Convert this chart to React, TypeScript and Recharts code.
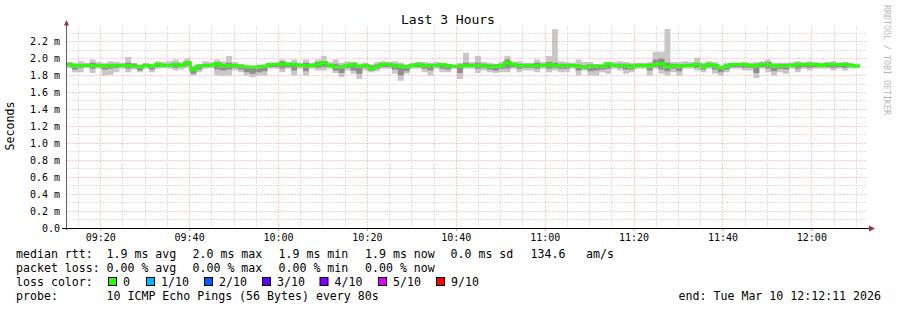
import React from 'react';
import { ComposedChart, Area, Line, XAxis, YAxis, ReferenceLine } from 'recharts';

// one sample every 80 s, window 09:12:11 .. 12:12:11 (x in minutes from start)
const STEP_MIN = 80 / 60;
const START_MIN = 9 * 60 + 12 + 11 / 60;

const medianRtt = [
  1.93, 1.91, 1.92, 1.92, 1.92, 1.92, 1.91, 1.92, 1.92, 1.92,
  1.92, 1.91, 1.90, 1.92, 1.91, 1.93, 1.92, 1.92, 1.93, 1.92,
  1.95, 1.87, 1.91, 1.92, 1.92, 1.94, 1.92,
  1.92, 1.92, 1.91, 1.90, 1.90, 1.90, 1.91, 1.93, 1.93, 1.94,
  1.93, 1.93, 1.92, 1.92, 1.92, 1.93, 1.95, 1.92, 1.90, 1.90,
  1.92, 1.93, 1.91, 1.92, 1.88, 1.91, 1.93,
  1.93, 1.92, 1.91, 1.90, 1.92, 1.93, 1.92, 1.92, 1.92, 1.93,
  1.92, 1.91, 1.91, 1.92, 1.92, 1.92, 1.92, 1.90, 1.91, 1.92,
  1.95, 1.93, 1.92, 1.92, 1.92, 1.92, 1.92,
  1.93, 1.92, 1.92, 1.92, 1.92, 1.91, 1.90, 1.91, 1.91, 1.91,
  1.94, 1.92, 1.92, 1.92, 1.90, 1.92, 1.92, 1.91, 1.93, 1.94,
  1.90, 1.92, 1.91, 1.92, 1.92, 1.93, 1.90,
  1.93, 1.92, 1.89, 1.91, 1.93, 1.93, 1.93, 1.92, 1.92, 1.93,
  1.93, 1.91, 1.92, 1.92, 1.92, 1.93, 1.93, 1.93, 1.93, 1.92,
  1.93, 1.93, 1.93, 1.93, 1.92, 1.91,
];

const rttMax = [
  1.96, 1.95, 1.97, 1.95, 1.99, 1.96, 1.95, 1.97, 1.96, 1.95,
  2.02, 1.95, 1.92, 1.95, 1.93, 1.97, 1.96, 1.97, 1.99, 1.96,
  2.00, 1.92, 1.93, 1.97, 1.96, 1.99, 1.97,
  2.03, 1.96, 1.93, 1.92, 1.91, 1.93, 1.93, 1.95, 1.95, 1.99,
  1.96, 1.99, 1.95, 1.99, 1.95, 1.99, 2.03, 1.96, 1.99, 1.95,
  1.97, 1.96, 1.92, 1.95, 1.93, 1.96, 1.97,
  1.96, 1.97, 1.95, 1.93, 1.95, 1.96, 1.96, 1.95, 1.96, 1.93,
  1.93, 1.92, 1.95, 2.07, 1.96, 2.03, 1.96, 1.95, 1.94, 1.96,
  2.03, 1.96, 1.97, 1.95, 1.95, 1.99, 1.96,
  2.03, 2.35, 1.97, 1.96, 1.95, 1.99, 1.96, 1.96, 1.93, 1.93,
  1.95, 1.96, 1.97, 1.96, 1.95, 1.95, 1.95, 1.96, 2.08, 2.08,
  2.35, 1.96, 1.96, 1.97, 1.96, 2.01, 1.95,
  1.97, 1.96, 1.92, 1.95, 1.95, 1.95, 1.96, 1.95, 1.96, 1.97,
  1.99, 1.95, 1.95, 1.95, 1.96, 1.97, 1.96, 1.97, 1.96, 1.95,
  1.96, 1.97, 1.95, 1.96, 1.95, 1.94,
];

const rttMin = [
  1.89, 1.84, 1.84, 1.89, 1.83, 1.88, 1.80, 1.81, 1.84, 1.88,
  1.84, 1.87, 1.84, 1.88, 1.84, 1.88, 1.89, 1.88, 1.86, 1.87,
  1.89, 1.80, 1.84, 1.88, 1.89, 1.80, 1.80,
  1.80, 1.86, 1.84, 1.80, 1.78, 1.80, 1.80, 1.88, 1.88, 1.84,
  1.88, 1.80, 1.88, 1.80, 1.88, 1.86, 1.86, 1.88, 1.83, 1.78,
  1.86, 1.82, 1.76, 1.86, 1.84, 1.85, 1.88,
  1.88, 1.82, 1.74, 1.82, 1.88, 1.88, 1.84, 1.80, 1.88, 1.84,
  1.84, 1.88, 1.76, 1.88, 1.88, 1.83, 1.86, 1.84, 1.83, 1.84,
  1.84, 1.88, 1.84, 1.86, 1.86, 1.84, 1.88,
  1.84, 1.86, 1.84, 1.84, 1.88, 1.80, 1.86, 1.80, 1.80, 1.84,
  1.82, 1.88, 1.86, 1.82, 1.84, 1.88, 1.88, 1.80, 1.88, 1.82,
  1.80, 1.84, 1.80, 1.88, 1.88, 1.86, 1.84,
  1.88, 1.82, 1.80, 1.84, 1.88, 1.88, 1.86, 1.86, 1.77, 1.88,
  1.84, 1.80, 1.84, 1.82, 1.88, 1.84, 1.88, 1.86, 1.88, 1.88,
  1.88, 1.86, 1.88, 1.86, 1.88, 1.89,
];

// denser part of the smoke
const rttUpperQ = [
  1.95, 1.93, 1.94, 1.94, 1.95, 1.94, 1.93, 1.94, 1.94, 1.94,
  1.95, 1.94, 1.92, 1.94, 1.93, 1.95, 1.94, 1.94, 1.95, 1.94,
  1.97, 1.90, 1.93, 1.94, 1.94, 1.96, 1.94,
  1.95, 1.94, 1.93, 1.91, 1.91, 1.92, 1.92, 1.94, 1.94, 1.97,
  1.95, 1.95, 1.94, 1.95, 1.94, 1.96, 1.97, 1.94, 1.94, 1.92,
  1.94, 1.95, 1.92, 1.94, 1.92, 1.93, 1.95,
  1.95, 1.94, 1.93, 1.92, 1.94, 1.95, 1.94, 1.94, 1.94, 1.93,
  1.93, 1.92, 1.93, 1.95, 1.94, 1.95, 1.94, 1.93, 1.93, 1.94,
  1.99, 1.95, 1.94, 1.94, 1.94, 1.95, 1.94,
  1.96, 1.95, 1.94, 1.94, 1.94, 1.93, 1.92, 1.93, 1.93, 1.93,
  1.95, 1.94, 1.94, 1.94, 1.93, 1.94, 1.94, 1.94, 1.99, 2.00,
  1.95, 1.94, 1.93, 1.94, 1.94, 1.95, 1.93,
  1.95, 1.94, 1.91, 1.93, 1.94, 1.94, 1.95, 1.94, 1.94, 1.95,
  1.96, 1.93, 1.94, 1.94, 1.94, 1.95, 1.94, 1.95, 1.94, 1.94,
  1.95, 1.95, 1.94, 1.95, 1.94, 1.92,
];

const rttLowerQ = [
  1.91, 1.87, 1.89, 1.90, 1.88, 1.90, 1.87, 1.88, 1.89, 1.90,
  1.88, 1.89, 1.86, 1.90, 1.87, 1.90, 1.90, 1.90, 1.89, 1.90,
  1.92, 1.82, 1.87, 1.90, 1.90, 1.87, 1.86,
  1.87, 1.89, 1.87, 1.84, 1.82, 1.84, 1.85, 1.90, 1.90, 1.88,
  1.90, 1.86, 1.90, 1.85, 1.90, 1.89, 1.90, 1.90, 1.86, 1.83,
  1.89, 1.86, 1.82, 1.89, 1.86, 1.88, 1.90,
  1.90, 1.87, 1.80, 1.85, 1.90, 1.90, 1.88, 1.86, 1.90, 1.88,
  1.87, 1.89, 1.83, 1.90, 1.90, 1.88, 1.89, 1.87, 1.86, 1.88,
  1.88, 1.90, 1.88, 1.89, 1.89, 1.88, 1.90,
  1.88, 1.89, 1.88, 1.88, 1.90, 1.86, 1.88, 1.85, 1.86, 1.87,
  1.88, 1.90, 1.89, 1.87, 1.87, 1.90, 1.90, 1.86, 1.90, 1.87,
  1.85, 1.88, 1.85, 1.90, 1.90, 1.89, 1.87,
  1.90, 1.87, 1.84, 1.87, 1.90, 1.90, 1.89, 1.89, 1.83, 1.90,
  1.88, 1.85, 1.88, 1.87, 1.90, 1.88, 1.90, 1.89, 1.90, 1.90,
  1.90, 1.89, 1.90, 1.89, 1.90, 1.90,
];

const timeLabels = ['09:20', '09:40', '10:00', '10:20', '10:40', '11:00', '11:20', '11:40', '12:00'];
const yTicks = [0, 0.2, 0.4, 0.6, 0.8, 1.0, 1.2, 1.4, 1.6, 1.8, 2.0, 2.2];
const Y_MAX = 2.385;

const lossColors = ['#26ff00', '#00b8ff', '#0059ff', '#5e00ff', '#7e00ff', '#dd00ff', '#ff0000'];
const lossLabels = ['0', '1/10', '2/10', '3/10', '4/10', '5/10', '9/10'];

const toT = (hhmm: string) => {
  const [h, m] = hhmm.split(':').map(Number);
  return h * 60 + m - START_MIN;
};
const xTicks = timeLabels.map(toT);
const labelFor = (t: number) => timeLabels[xTicks.findIndex(v => Math.abs(v - t) < 0.01)] ?? '';

// minor grid: every 5 min / every 0.1 ms (skipping the major ones)
const minorX: number[] = [];
for (let t = toT('09:15'); t < 180; t += 5) {
  if (!xTicks.some(v => Math.abs(v - t) < 0.01)) minorX.push(t);
}
const minorY: number[] = [];
for (let i = 1; i <= 23; i += 2) minorY.push(i / 10);

const rows = medianRtt.map((m, i) => ({
  t: i * STEP_MIN,
  med: m,
  outer: [rttMin[i], rttMax[i]],
  inner: [rttLowerQ[i], rttUpperQ[i]],
}));
rows.push({ ...rows[rows.length - 1], t: rows.length * STEP_MIN });

const MONO = "'DejaVu Sans Mono', monospace";
const MINOR = '#c0c0c0';
const MAJOR = '#ff9494';

// snap grid lines onto whole pixels so the dotted lines stay crisp
const gridShape = (color: string) => (p: any) => {
  const x1 = Math.floor(p.x1) + 0.5;
  const x2 = Math.floor(p.x2) + 0.5;
  const y1 = Math.floor(p.y1) + 0.5;
  const y2 = Math.floor(p.y2) + 0.5;
  return <line x1={x1} y1={y1} x2={x2} y2={y2} stroke={color} strokeWidth={1} strokeDasharray="1 2" />;
};

const XTick = (p: any) => (
  <text x={p.x} y={p.y + 7} textAnchor="middle" fontFamily={MONO} fontSize={10} fill="#000">
    {labelFor(p.payload.value)}
  </text>
);
const YTick = (p: any) => (
  <text x={p.x} y={p.y + 3.5} textAnchor="end" fontFamily={MONO} fontSize={10} fill="#000">
    {p.payload.value === 0 ? '0.0' : `${p.payload.value.toFixed(1)} m`}
  </text>
);

const legendLines: { y: number; parts: [number, string][] }[] = [
  { y: 258, parts: [[16, 'median rtt:'], [106.5, '1.9 ms avg'], [192.5, '2.0 ms max'], [278.5, '1.9 ms min'], [365, '1.9 ms now'], [450.5, '0.0 ms sd'], [530.5, '134.6'], [586, 'am/s']] },
  { y: 272, parts: [[16, 'packet loss:'], [106.5, '0.00 % avg'], [192.5, '0.00 % max'], [278.5, '0.00 % min'], [365, '0.00 % now']] },
  { y: 286, parts: [[16, 'loss color:']] },
  { y: 300, parts: [[16, 'probe:'], [106.5, '10 ICMP Echo Pings (56 Bytes) every 80s']] },
];
const boxX = [108, 146, 204, 262, 319.5, 378, 436];

export default function App() {
  return (
    <div style={{ position: 'absolute', left: 0, top: 0, width: 897, height: 310, background: '#fff' }}>
      <ComposedChart width={897} height={310} data={rows} margin={{ top: 26, right: 31, bottom: 62, left: 6 }}>
        <XAxis
          type="number"
          dataKey="t"
          domain={[0, 180]}
          ticks={xTicks}
          interval={0}
          allowDataOverflow
          height={20}
          axisLine={false}
          tickLine={{ stroke: '#ff8080' }}
          tickSize={3}
          tickMargin={3}
          tick={XTick}
        />
        <YAxis
          type="number"
          domain={[0, Y_MAX]}
          ticks={yTicks}
          interval={0}
          allowDataOverflow
          width={60}
          axisLine={false}
          tickLine={false}
          tickSize={2}
          tickMargin={4}
          tick={YTick}
        />
        <Area type="stepAfter" dataKey="outer" stroke="none" fill="#c8c8c8" fillOpacity={1} isAnimationActive={false} />
        <Area type="stepAfter" dataKey="inner" stroke="none" fill="#8e8e8e" fillOpacity={1} isAnimationActive={false} />
        <Line type="stepAfter" dataKey="med" stroke="#26ff00" strokeWidth={3} dot={false} isAnimationActive={false} />
        {minorX.map(t => (
          <ReferenceLine key={`mx${t}`} x={t} shape={gridShape(MINOR)} />
        ))}
        {minorY.map(v => (
          <ReferenceLine key={`my${v}`} y={v} shape={gridShape(MINOR)} />
        ))}
        {xTicks.map(t => (
          <ReferenceLine key={`x${t}`} x={t} shape={gridShape(MAJOR)} />
        ))}
        {yTicks.filter(v => v > 0).map(v => (
          <ReferenceLine key={`y${v}`} y={v} shape={gridShape(MAJOR)} />
        ))}
      </ComposedChart>
      <svg width={897} height={310} style={{ position: 'absolute', left: 0, top: 0, pointerEvents: 'none' }}>
        <line x1={66.5} y1={24} x2={66.5} y2={230} stroke="#606060" strokeWidth={1} />
        <polygon points="64,25.5 69,25.5 66.5,20" fill="#993333" />
        <line x1={62} y1={228.5} x2={870} y2={228.5} stroke="#000" strokeWidth={1} />
        <polygon points="869,225.5 869,231.5 875,228.5" fill="#993333" />
        <text x={448} y={24} textAnchor="middle" fontFamily={MONO} fontSize={13} fill="#000">Last 3 Hours</text>
        <text x={14} y={126} transform="rotate(-90 14 126)" textAnchor="middle" fontFamily={MONO} fontSize={11.6} fill="#000">Seconds</text>
        <text x={883.5} y={60} transform="rotate(90 883.5 60)" textAnchor="middle" fontFamily={MONO} fontSize={8.3} fill="#b8b8b8">RRDTOOL / TOBI OETIKER</text>
        {legendLines.map(l =>
          l.parts.map(([x, s]) => (
            <text key={`${l.y}-${x}`} x={x} y={l.y} fontFamily={MONO} fontSize={11.6} fill="#000" style={{ whiteSpace: 'pre' }}>{s}</text>
          ))
        )}
        {lossColors.map((c, i) => (
          <g key={c}>
            <rect x={boxX[i] + 0.5} y={277.5} width={8} height={8} fill={c} stroke="#000" strokeWidth={1} />
            <text x={boxX[i] + 15} y={286} fontFamily={MONO} fontSize={11.6} fill="#000">{lossLabels[i]}</text>
          </g>
        ))}
        <text x={881} y={300} textAnchor="end" fontFamily={MONO} fontSize={11.6} fill="#000">end: Tue Mar 10 12:12:11 2026</text>
      </svg>
    </div>
  );
}
